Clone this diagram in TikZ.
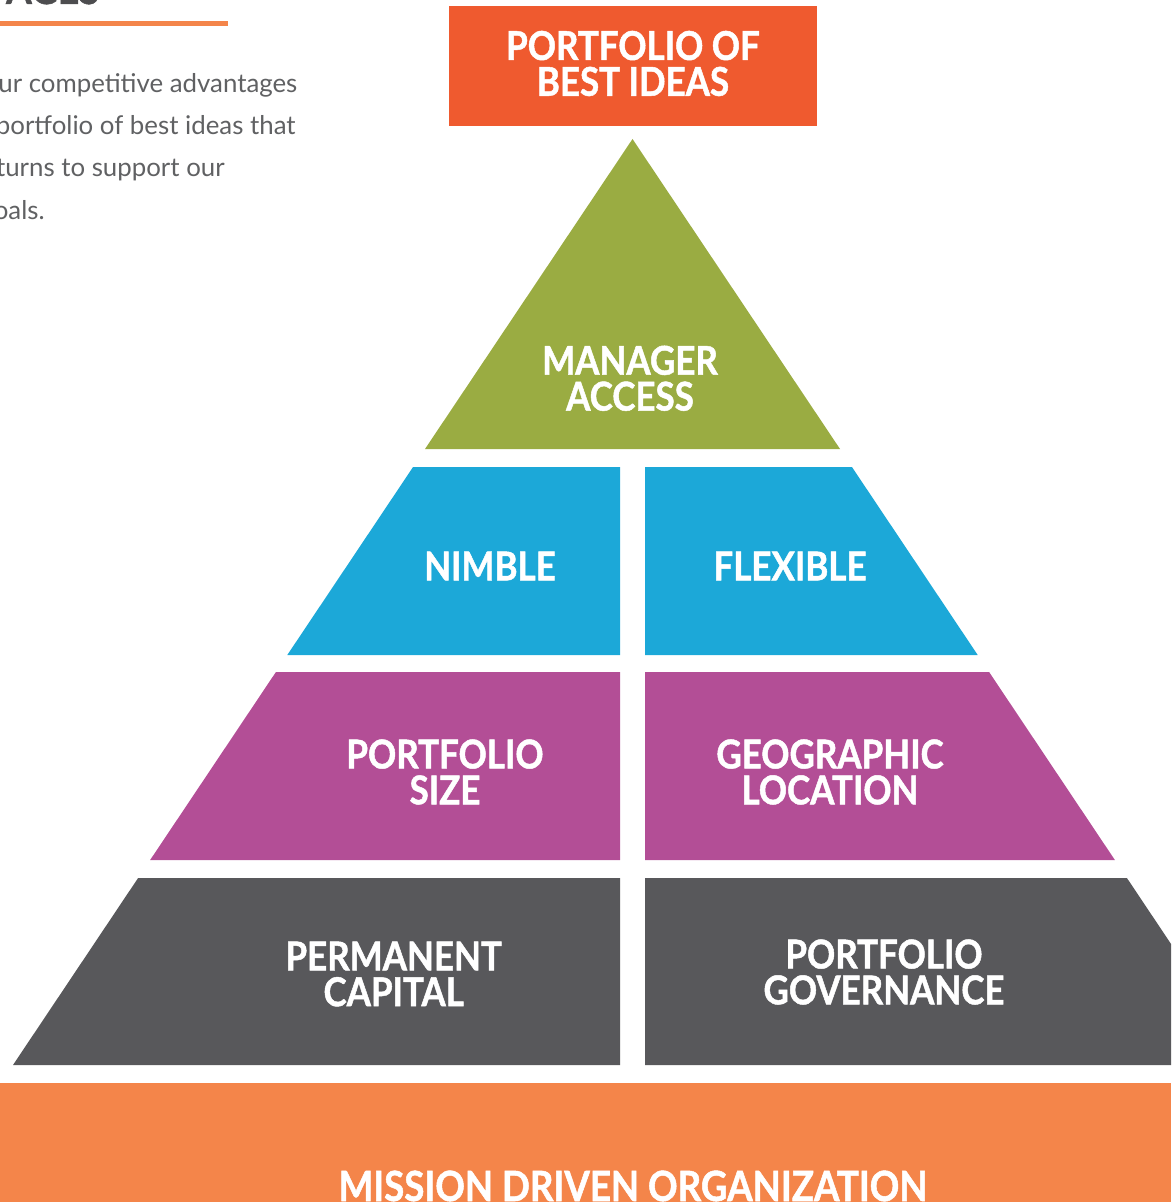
\documentclass[tikz,border=0pt]{standalone}
\usepackage{fontspec}
\setmainfont{Lato}
\newfontfamily\lblfont{Lato}[FakeStretch=0.88,BoldFeatures={FakeBold=1.2}]
\definecolor{topred}{HTML}{EF5A2F}
\definecolor{olive}{HTML}{9AAC42}
\definecolor{tierblue}{HTML}{1CA8D8}
\definecolor{tiermag}{HTML}{B34E96}
\definecolor{tiergray}{HTML}{58585B}
\definecolor{bandorange}{HTML}{F4854A}
\definecolor{headgray}{HTML}{4D4D4F}
\definecolor{paragray}{HTML}{606163}
\begin{document}
\begin{tikzpicture}[x=0.02cm,y=-0.02cm,
    lbl/.style={text=white,font=\lblfont\bfseries\fontsize{22.6}{20.4}\selectfont,align=center,inner sep=0pt},
    para/.style={anchor=base east,inner sep=0pt,text=paragray,font=\fontsize{14.7}{18}\selectfont}]
    \useasboundingbox (0,0) rectangle (1171,1202);
    \clip (0,0) rectangle (1171,1202);
    \node[anchor=base east,inner sep=0pt,text=headgray,font=\lblfont\bfseries\fontsize{24}{24}\selectfont] (head) at (100,4) {AGES};
    \fill[bandorange] (0,20.7) rectangle (227.7,25.7);
    \foreach \txt/\xe/\yb [count=\i] in {our competitive advantages/297.7/92.7,portfolio of best ideas that/296/135,returns to support our/225/177,goals./45/220}
        \node[para] (para\i) at (\xe,\yb) {\txt};
    \fill[topred] (449,6) rectangle (817,126);
    \node[lbl] (best) at (633,63.5) {PORTFOLIO OF\\BEST IDEAS};
    \fill[olive] (632.5,139) -- (840,449) -- (425,449) -- cycle;
    \node[lbl] (manager) at (630,378.3) {MANAGER\\ACCESS};
    \foreach \t/\b/\col in {467/655/tierblue,672/860/tiermag,878/1065/tiergray}{
        \fill[\col] ({632.5-0.669*(\t-139)},\t) -- (620,\t) -- (620,\b) -- ({632.5-0.669*(\b-139)},\b) -- cycle;
        \fill[\col] ({632.5+0.669*(\t-139)},\t) -- (645,\t) -- (645,\b) -- ({632.5+0.669*(\b-139)},\b) -- cycle;
    }
    \node[lbl] (nimble) at (490,566) {NIMBLE};
    \node[lbl] (flexible) at (790,566) {FLEXIBLE};
    \node[lbl] (size) at (445,772) {PORTFOLIO\\SIZE};
    \node[lbl] (location) at (830,772) {GEOGRAPHIC\\LOCATION};
    \node[lbl] (capital) at (393.7,974) {PERMANENT\\CAPITAL};
    \node[lbl] (governance) at (884,972) {PORTFOLIO\\GOVERNANCE};
    \fill[bandorange] (0,1083) rectangle (1171,1202);
    \node[lbl,anchor=base,font=\lblfont\bfseries\fontsize{23.7}{22}\selectfont] (mission) at (633,1201) {MISSION DRIVEN ORGANIZATION};
\end{tikzpicture}
\end{document}
